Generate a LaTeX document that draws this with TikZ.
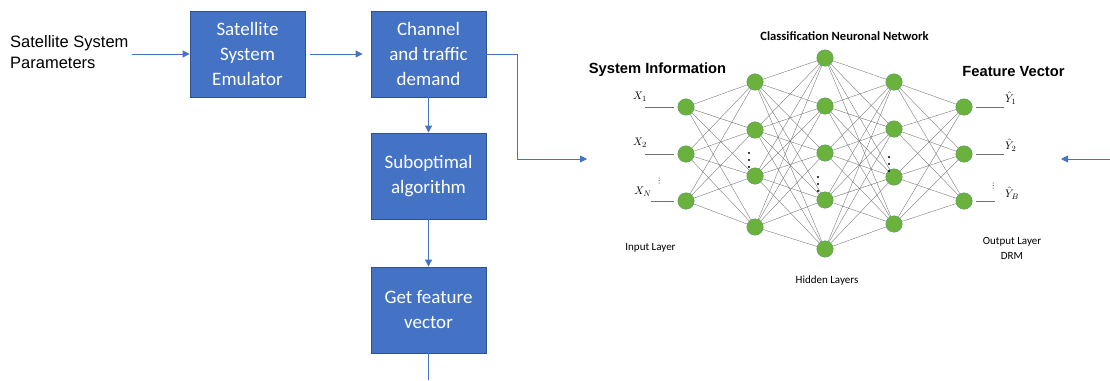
\documentclass[tikz,border=0pt]{standalone}
\usepackage{fontspec}
\setmainfont{Carlito}
\newfontfamily\arialfont{Liberation Sans}
\usetikzlibrary{arrows.meta}
\definecolor{boxblue}{HTML}{4472C4}
\definecolor{boxedge}{HTML}{2F528F}
\definecolor{neurongreen}{HTML}{6AB23C}
\definecolor{neuronedge}{HTML}{4F8F6A}
\definecolor{wiregray}{HTML}{707070}
\begin{document}
\begin{tikzpicture}[x=1pt,y=-1pt,
  blk/.style={draw=boxedge, line width=0.8pt, fill=boxblue, text=white,
    minimum width=115pt, minimum height=86pt, inner sep=0pt, align=center,
    font=\fontsize{19}{25}\selectfont},
  arr/.style={draw=boxblue, line width=0.8pt, -{Triangle[length=7pt,width=7pt]}},
  flow/.style={draw=boxblue, line width=0.8pt},
  neuron/.style={circle, fill=neurongreen, draw=neuronedge, line width=0.3pt,
    minimum size=16.5pt, inner sep=0pt},
  wire/.style={draw=wiregray, line width=0.35pt},
  io/.style={draw=wiregray, line width=0.5pt},
  heading/.style={font=\arialfont\bfseries\fontsize{14.7}{17}\selectfont},
  caption/.style={font=\fontsize{11}{15}\selectfont, align=center},
  var/.style={font=\fontsize{11}{13}\selectfont, inner sep=0pt}
]
\useasboundingbox (0,0) rectangle (1110,380);

% ---------- flow chart ----------
\node[anchor=north west, align=left, inner sep=0pt,
      font=\arialfont\fontsize{16.5}{21}\selectfont] (par) at (10,35)
      {Satellite System\\Parameters};
\coordinate (pin) at (132,54);

\node[blk] (emu)  at (247.5,54)  {Satellite\\System\\Emulator};
\node[blk] (chan) at (428.5,54)  {Channel\\and traffic\\demand};
\node[blk] (sub)  at (428.5,176) {Suboptimal\\algorithm};
\node[blk] (feat) at (428.5,310) {Get feature\\vector};
\coordinate (fout) at (428.5,380);
\coordinate (nnin) at (587,159);
\coordinate (rin)  at (1110,159);
\coordinate (rout) at (1061,159);

\draw[arr] (pin) -- (emu.west);
\draw[arr, shorten <=5pt, shorten >=8pt] (emu.east) -- (chan.west);
\draw[arr] (chan.south) -- (sub.north);
\draw[arr] (sub.south) -- (feat.north);
\draw[flow] (feat.south) -- (fout);
\draw[arr] (chan.east) -- ++(31,0) |- (nnin);
\draw[arr] (rin) -- (rout);

% ---------- neural network ----------
\foreach \y [count=\k] in {107,154,201} \node[neuron] (i\k) at (686,\y) {};
\foreach \y [count=\k] in {82,130,176,227} \node[neuron] (a\k) at (755,\y) {};
\foreach \y [count=\k] in {58,106,153,200,249} \node[neuron] (b\k) at (825,\y) {};
\foreach \y [count=\k] in {82,129,177,224} \node[neuron] (c\k) at (894,\y) {};
\foreach \y [count=\k] in {107,154,201} \node[neuron] (o\k) at (964,\y) {};

\foreach \p in {1,2,3} \foreach \q in {1,...,4} \draw[wire] (i\p) -- (a\q);
\foreach \p in {1,...,4} \foreach \q in {1,...,5} \draw[wire] (a\p) -- (b\q);
\foreach \p in {1,...,5} \foreach \q in {1,...,4} \draw[wire] (b\p) -- (c\q);
\foreach \p in {1,...,4} \foreach \q in {1,2,3} \draw[wire] (c\p) -- (o\q);

% ellipsis dots inside the hidden layers
\foreach \y in {153,160,167} \fill (749,\y) circle (1.2);
\foreach \y in {177,184,191} \fill (818,\y) circle (1.2);
\foreach \y in {157,164,171} \fill (889,\y) circle (1.2);

% inputs
\coordinate (x1s) at (645,107);
\coordinate (x2s) at (645,154);
\coordinate (x3s) at (651,201);
\draw[io, shorten >=4pt] (x1s) -- (i1.west);
\draw[io, shorten >=4pt] (x2s) -- (i2.west);
\draw[io, shorten >=4pt] (x3s) -- (i3.west);
\node[var] (xl1) at (640,97)  {$X_1$};
\node[var] (xl2) at (640,143) {$X_2$};
\node[var] (xl3) at (643,192) {$X_N$};
\foreach \y in {178,180.5,183} \fill (659,\y) circle (0.5);

% outputs
\coordinate (y1e) at (1004,107);
\coordinate (y2e) at (1004,154);
\coordinate (y3e) at (995,201);
\draw[io, shorten <=4pt] (o1.east) -- (y1e);
\draw[io, shorten <=4pt] (o2.east) -- (y2e);
\draw[io, shorten <=4pt] (o3.east) -- (y3e);
\node[var, anchor=west] (yl1) at (1005,98)  {$\hat{Y}_1$};
\node[var, anchor=west] (yl2) at (1005,145) {$\hat{Y}_2$};
\node[var, anchor=west] (yl3) at (1005,193) {$\hat{Y}_B$};
\foreach \y in {183,185.5,188} \fill (993,\y) circle (0.5);

% titles and captions
\node[font=\bfseries\fontsize{12.6}{15}\selectfont] (ttl) at (844.5,36)
      {Classification Neuronal Network};
\node[heading] (sysinfo) at (657.5,70) {System Information};
\node[heading] (fvec) at (1013.5,72) {Feature Vector};
\node[caption] (inl) at (650.5,248) {Input Layer};
\node[caption] (hid) at (827,281) {Hidden Layers};
\node[caption] (outl) at (1012,248.5) {Output Layer\\DRM};
\end{tikzpicture}
\end{document}
